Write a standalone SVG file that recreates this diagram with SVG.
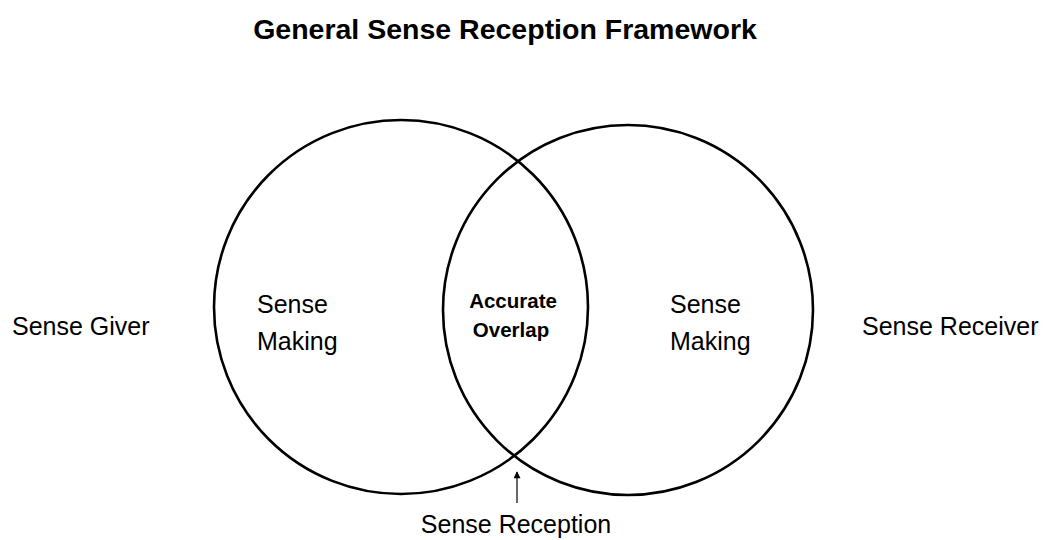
<svg xmlns="http://www.w3.org/2000/svg" width="1045" height="540" viewBox="0 0 1045 540">
<style>
.t{font-family:"Liberation Sans",Arial,sans-serif;fill:#000}
.lbl{font-size:25px}
.ov{font-size:20.5px;font-weight:bold}
.title{font-size:28.5px;font-weight:bold}
.c{fill:none;stroke:#000;stroke-width:2.6}
</style>
<defs>
<marker id="ah" viewBox="0 0 10 10" refX="9" refY="5" markerWidth="8" markerHeight="7" orient="auto" markerUnits="userSpaceOnUse">
<path d="M0,0 L10,5 L0,10 z" fill="#000"/>
</marker>
</defs>
<rect width="1045" height="540" fill="#fff"/>
<text class="t title" x="505" y="39" text-anchor="middle">General Sense Reception Framework</text>
<g id="giver"><text class="t lbl" x="12" y="335">Sense Giver</text></g>
<g id="receiver"><text class="t lbl" x="862" y="335">Sense Receiver</text></g>
<g id="left-circle">
<circle class="c" cx="401" cy="307" r="187"/>
<text class="t lbl" x="257" y="313">Sense</text>
<text class="t lbl" x="257" y="350">Making</text>
</g>
<g id="right-circle">
<circle class="c" cx="628" cy="310" r="185"/>
<text class="t lbl" x="670" y="313">Sense</text>
<text class="t lbl" x="670" y="350">Making</text>
</g>
<g id="overlap">
<text class="t ov" x="513" y="308" text-anchor="middle">Accurate</text>
<text class="t ov" x="511" y="337" text-anchor="middle">Overlap</text>
</g>
<g id="reception"><text class="t lbl" x="516" y="533" text-anchor="middle">Sense Reception</text></g>
<g id="connectors">
<line x1="517" y1="503" x2="517" y2="472" stroke="#000" stroke-width="1.2" marker-end="url(#ah)"/>
</g>
</svg>
